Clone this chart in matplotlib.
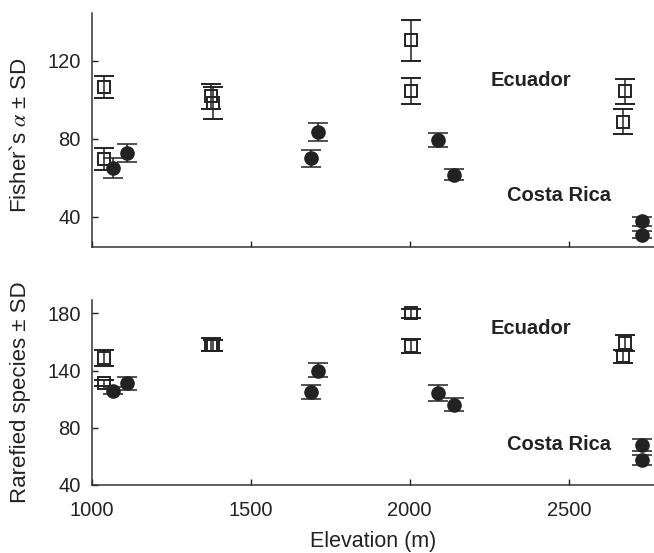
import numpy as np
import matplotlib
matplotlib.use("Agg")
import matplotlib.pyplot as plt

# Ecuador sites (open squares)
ec_elev = [1040, 1040, 1375, 1382, 2005, 2005, 2670, 2677]
ec_alpha = [106.5, 69.5, 101.8, 98.5, 130.5, 104.3, 88.8, 104.4]
ec_alpha_sd = [5.5, 5.5, 6.4, 8.2, 10.5, 6.6, 6.6, 6.4]
ec_rare = [149, 127, 158, 157.5, 180, 157, 150, 159]
ec_rare_sd = [5.5, 3, 4.5, 3.5, 3, 4.7, 4.5, 5.5]

# Costa Rica sites (filled circles)
cr_elev = [1068, 1112, 1688, 1711, 2090, 2139, 2729, 2729]
cr_alpha = [65, 72.6, 69.9, 83.3, 79.2, 61.6, 37.5, 30.8]
cr_alpha_sd = [5, 4.5, 4.2, 4.7, 3.6, 2.9, 2.3, 1.7]
cr_rare = [119, 126.5, 117.3, 139, 116.5, 104.2, 68, 57.5]
cr_rare_sd = [4, 6.5, 7.2, 6, 8, 7, 4, 3.8]

x_ticks = [1000, 1500, 2000, 2500]
top_yticks = [40, 80, 120]
bot_yticks = [40, 80, 140, 180]

# the lower panel has evenly spaced ticks labelled 40, 80, 140, 180
lab_pts = [0, 40, 80, 140, 180, 260]
pos_pts = [0, 40, 80, 120, 160, 240]


def fwd(v):
    return np.interp(v, lab_pts, pos_pts)


def inv(v):
    return np.interp(v, pos_pts, lab_pts)


plt.rcParams['font.family'] = ['Liberation Sans', 'DejaVu Sans']
plt.rcParams['mathtext.fontset'] = 'stix'
ink = '#222222'

fig = plt.figure(figsize=(6.54, 5.53), dpi=100)
ax1 = fig.add_axes([0.1402, 0.5533, 0.8598, 0.4232])
ax2 = fig.add_axes([0.1402, 0.1230, 0.8598, 0.3345])
ax2.set_yscale('function', functions=(fwd, inv))

err_kw = dict(ecolor=ink, elinewidth=1.1, capsize=7, capthick=1.1, linestyle='none')


def draw(ax, ey, esd, cy, csd):
    ax.errorbar(ec_elev, ey, yerr=esd, marker='s', ms=9, mfc='none',
                mec=ink, mew=1.4, **err_kw)
    ax.errorbar(cr_elev, cy, yerr=csd, marker='o', ms=9.5, mfc=ink,
                mec=ink, **err_kw)
    for side in ['top', 'right']:
        ax.spines[side].set_visible(False)
    for side in ['left', 'bottom']:
        ax.spines[side].set_color('#333333')
        ax.spines[side].set_linewidth(1.1)
    ax.tick_params(direction='in', length=4, width=1, colors=ink,
                   labelsize=14.5, labelcolor=ink)
    ax.tick_params(axis='x', pad=11.5)
    ax.tick_params(axis='y', pad=8)
    ax.set_xlim(1000, 2768)
    ax.set_xticks(x_ticks)


draw(ax1, ec_alpha, ec_alpha_sd, cr_alpha, cr_alpha_sd)
ax1.set_ylim(24.4, 144.5)
ax1.set_yticks(top_yticks)
ax1.tick_params(axis='x', labelbottom=False)
ax1.set_ylabel("Fisher`s $\\alpha$ ± SD", fontsize=16, color=ink)
ax1.yaxis.set_label_coords(-0.108, 0.479)
ax1.text(2381, 110, "Ecuador", fontsize=14.5, fontweight='bold',
         ha='center', va='center', color=ink)
ax1.text(2470, 51, "Costa Rica", fontsize=14.5, fontweight='bold',
         ha='center', va='center', color=ink)

draw(ax2, ec_rare, ec_rare_sd, cr_rare, cr_rare_sd)
ax2.set_ylim(40, 189.3)
ax2.set_yticks(bot_yticks)
ax2.set_yticklabels([str(t) for t in bot_yticks])
ax2.minorticks_off()
ax2.set_ylabel("Rarefied species ± SD", fontsize=16, color=ink)
ax2.yaxis.set_label_coords(-0.108, 0.5)
ax2.set_xlabel("Elevation (m)", fontsize=15.5, color=ink)
ax2.xaxis.set_label_coords(0.5, -0.25)
ax2.text(2381, 169.5, "Ecuador", fontsize=14.5, fontweight='bold',
         ha='center', va='center', color=ink)
ax2.text(2470, 68.3, "Costa Rica", fontsize=14.5, fontweight='bold',
         ha='center', va='center', color=ink)

fig.savefig("out.png", dpi=100)
